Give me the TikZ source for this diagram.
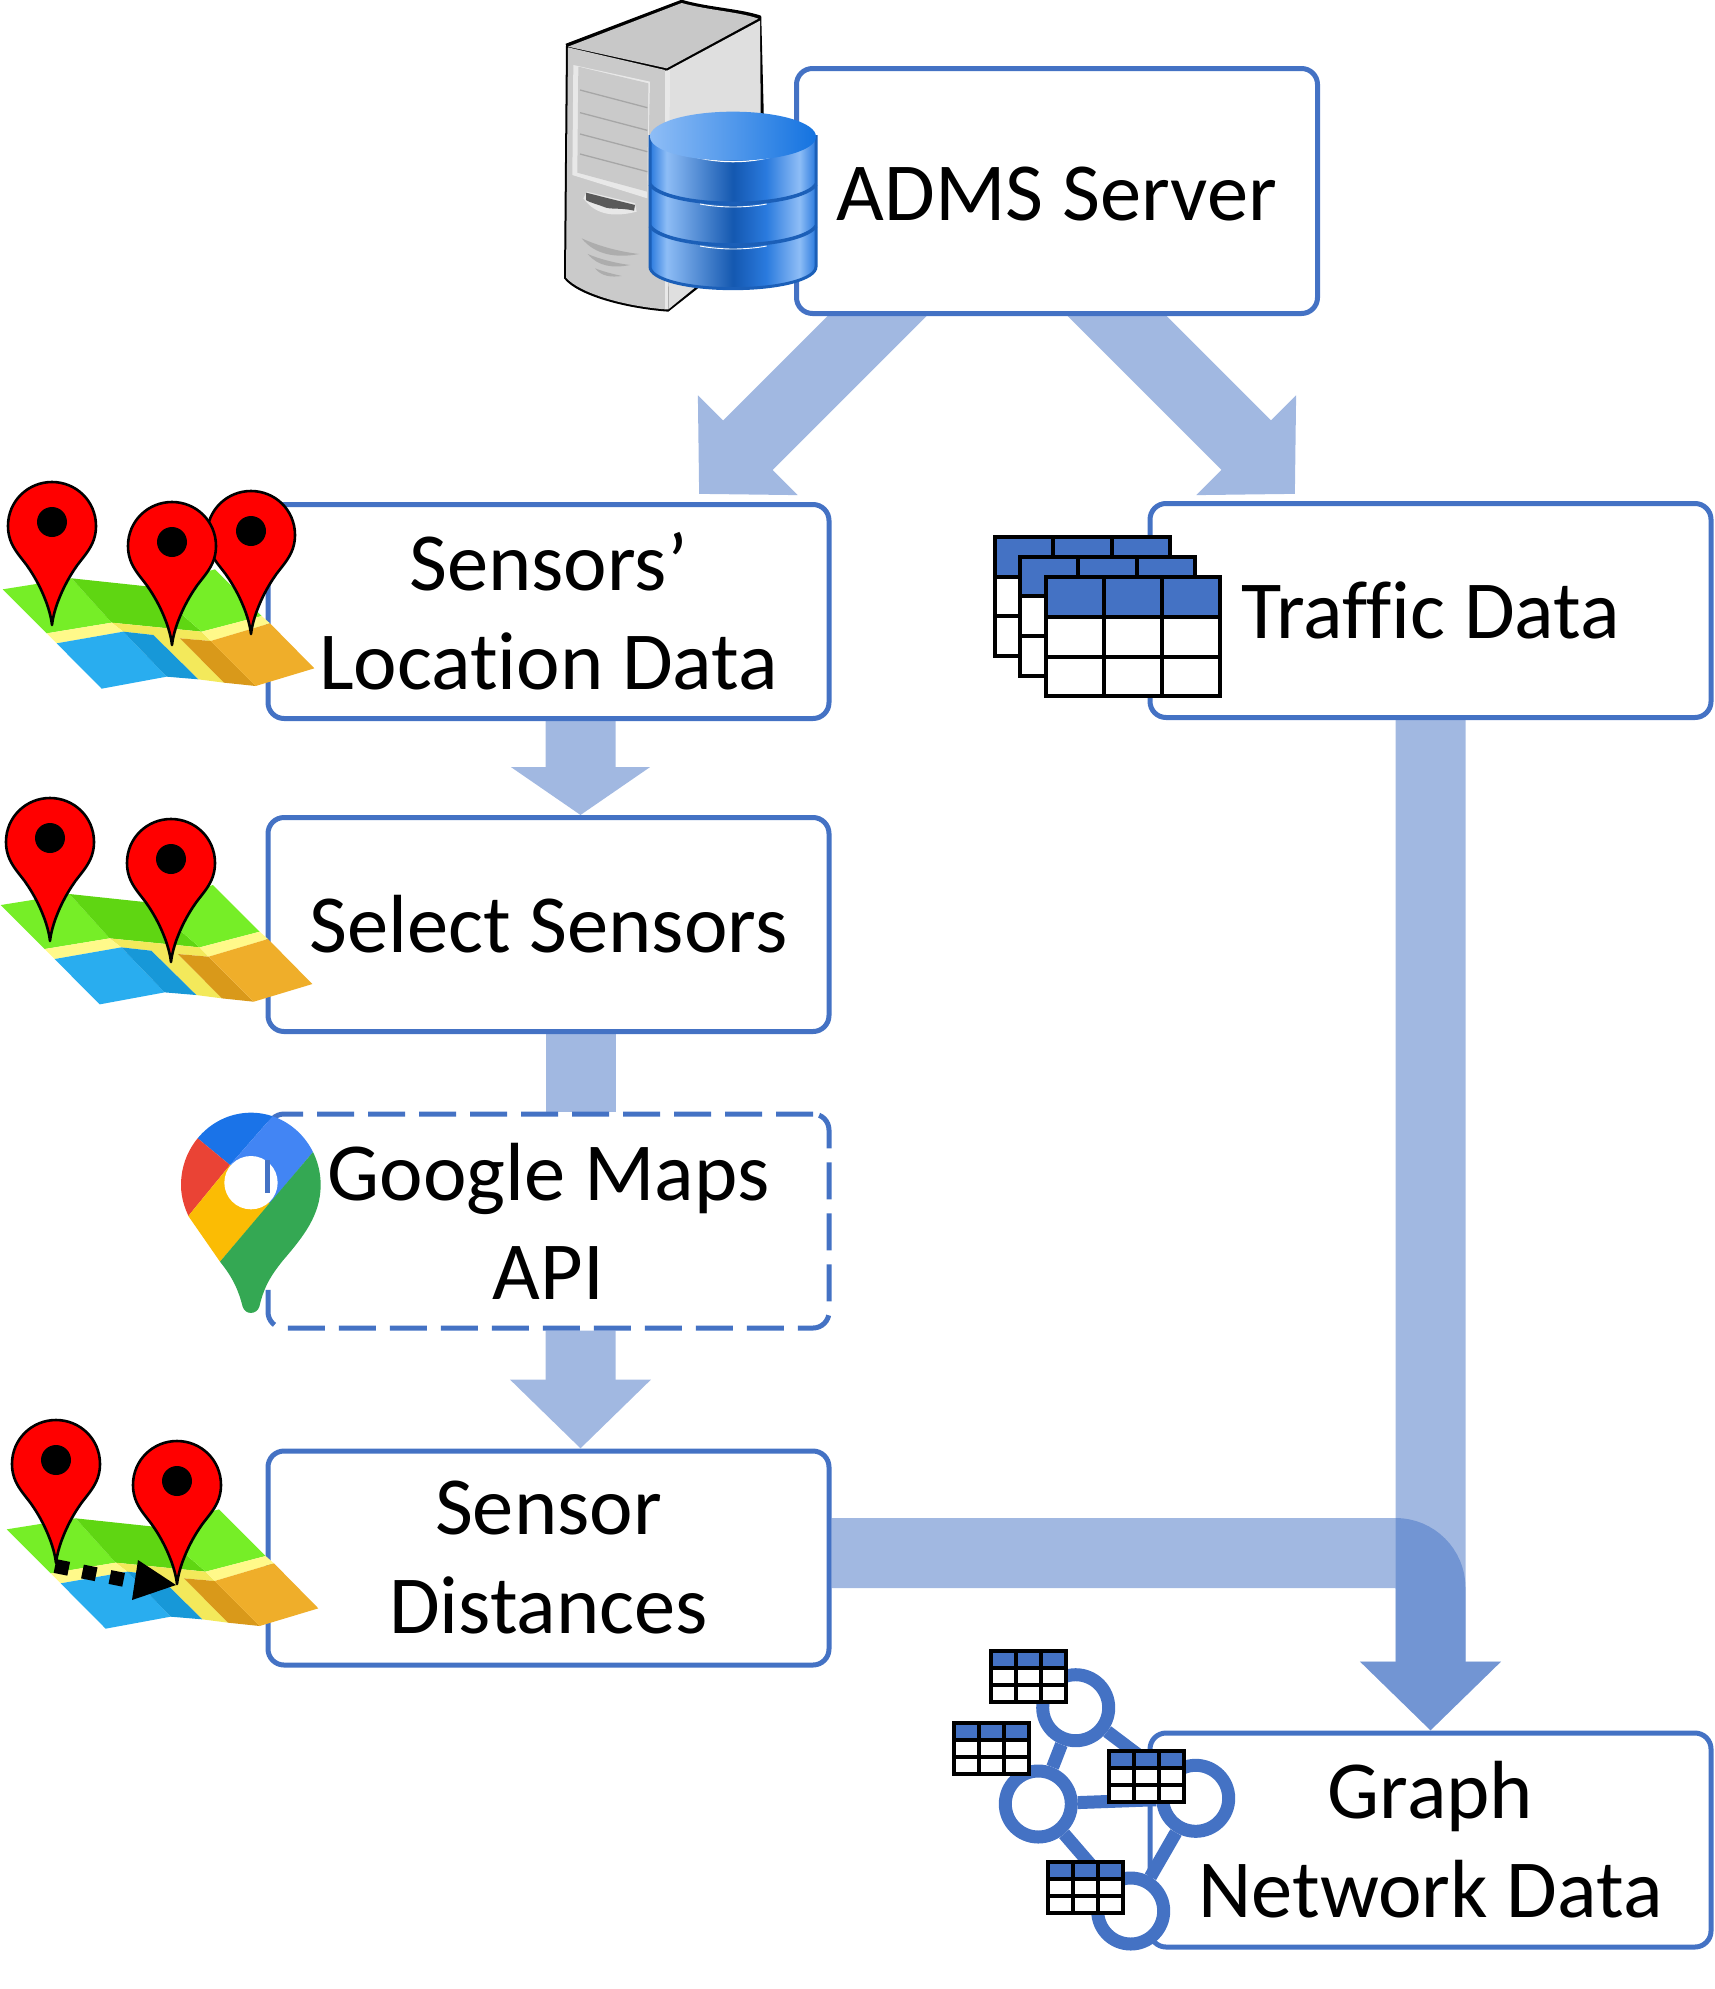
\documentclass[tikz,border=0pt]{standalone}
\usepackage{fontspec}
\setmainfont[Ligatures=NoCommon]{Carlito}
\usetikzlibrary{arrows.meta,backgrounds}
\definecolor{boxblue}{HTML}{4472C4}
\definecolor{dbmid}{HTML}{2A7ADE}
\definecolor{dblight}{HTML}{8EBDF6}
\definecolor{dbdark}{HTML}{1458B0}
\definecolor{dbrim}{HTML}{1B5FB8}
\definecolor{dbtop}{HTML}{1473E0}
\definecolor{servertop}{HTML}{C8C8C8}
\definecolor{serverside}{HTML}{DFDFDF}
\definecolor{serverfront}{HTML}{CACACA}
\definecolor{serverlight}{HTML}{E8E8E8}
\definecolor{mapgreen}{HTML}{76EE27}
\definecolor{mapgreendark}{HTML}{5FD612}
\definecolor{mapyellow}{HTML}{F3E95B}
\definecolor{mapyellowlight}{HTML}{FFF98A}
\definecolor{mapblue}{HTML}{29ADEF}
\definecolor{mapbluedark}{HTML}{1798D8}
\definecolor{maporange}{HTML}{EFAE2A}
\definecolor{maporangedark}{HTML}{D9991A}
\definecolor{gmapdarkblue}{HTML}{1A73E8}
\definecolor{gmapblue}{HTML}{4285F4}
\definecolor{gmapred}{HTML}{EA4335}
\definecolor{gmapyellow}{HTML}{FBBC04}
\definecolor{gmapgreen}{HTML}{34A853}
\pgfdeclarehorizontalshading{dbband}{100bp}{
  color(0bp)=(dbmid); color(25bp)=(dbmid); color(30bp)=(dblight); color(50bp)=(dbdark);
  color(60bp)=(dbmid); color(70bp)=(dblight); color(75bp)=(dbmid); color(100bp)=(dbmid)}
\tikzset{
  databox/.style={draw=boxblue,line width=5pt,rounded corners=16pt,fill=white,align=center,
    inner sep=0pt,minimum width=561pt,minimum height=214pt,font=\fontsize{82.5}{99}\selectfont},
  flowline/.style={line width=70pt,draw=boxblue},
  flow/.style={flowline,-{Triangle[length=69pt,width=137pt]}},
  flowshort/.style={flowline,-{Triangle[length=48pt,width=137pt]}},
  graphnode/.style={circle,draw=boxblue,line width=13pt,fill=white,minimum size=66pt,inner sep=0pt},
  graphedge/.style={draw=boxblue,line width=13pt},
  datatable/.pic={
    \fill[white] (0,0) rectangle (75,51);
    \fill[boxblue] (0,0) rectangle (75,17);
    \foreach \i in {0,25,50,75} \draw[line width=4pt,line cap=rect] (\i,0) -- (\i,51);
    \foreach \j in {0,17,34,51} \draw[line width=4pt,line cap=rect] (0,\j) -- (75,\j);
  },
  mappin/.pic={
    \draw[black,line width=2.6pt,line join=round,fill=red] (0,0) .. controls (-2,-18) and (-12,-40) .. (-22,-55)
      .. controls (-30,-68) and (-44,-78) .. (-44,-99) .. controls (-44,-124) and (-24,-143) .. (0,-143)
      .. controls (24,-143) and (44,-124) .. (44,-99) .. controls (44,-78) and (30,-68) .. (22,-55)
      .. controls (12,-40) and (2,-18) .. (0,0) -- cycle;
    \fill[black] (0,-103) circle[radius=15];
  },
  foldmap/.pic={
    \begin{scope}[scale=1/3]
      \fill[mapgreen] (8,358) -- (215,325) -- (335,458) -- (140,490) -- cycle;
      \fill[mapgreendark] (215,325) -- (450,350) -- (605,485) -- (335,458) -- cycle;
      \fill[mapgreen] (450,350) -- (645,298) -- (785,438) -- (605,485) -- cycle;
      \fill[mapyellow] (335,458) -- (605,485) -- (632,513) -- (540,505) -- (672,638) -- (595,628) -- (460,495) -- (370,485) -- cycle;
      \fill[mapyellowlight] (140,490) -- (335,458) -- (370,485) -- (170,520) -- cycle;
      \fill[mapyellowlight] (605,485) -- (785,438) -- (810,460) -- (632,513) -- cycle;
      \fill[mapblue] (170,520) -- (370,485) -- (500,620) -- (305,656) -- cycle;
      \fill[mapbluedark] (370,485) -- (460,495) -- (595,628) -- (500,620) -- cycle;
      \fill[maporangedark] (540,505) -- (632,513) -- (767,648) -- (672,638) -- cycle;
      \fill[maporange] (632,513) -- (810,460) -- (943,595) -- (767,648) -- cycle;
    \end{scope}
  },
}
\begin{document}
\begin{tikzpicture}[x=1pt,y=-1pt]
  \useasboundingbox (0,0) rectangle (1714,1989);
  \node[databox,minimum width=521pt,minimum height=245pt,text height=60pt] (adms) at (1057,191) {ADMS Server};
  \node[databox] (sensors) at (548.5,611.5) {Sensors’\\Location Data};
  \node[databox] (select) at (548.5,924.5) {Select Sensors};
  \node[databox,dash pattern=on 37pt off 14pt] (google) at (548.5,1221) {Google Maps\\API};
  \node[databox] (dist) at (548.5,1558) {Sensor\\Distances};
  \node[databox] (traffic) at (1430.5,610.5) {Traffic Data};
  \node[databox] (graph) at (1430.5,1840) {Graph\\Network Data};
  \coordinate (admsleft) at (948,245);
  \coordinate (admsright) at (1046,245);
  \coordinate (tipleft) at (699,494);
  \coordinate (tipright) at (1295,494);
  \begin{scope}[on background layer]
    \scoped[transparency group,opacity=.5] \draw[flow] (admsleft) -- (tipleft);
    \scoped[transparency group,opacity=.5] \draw[flow] (admsright) -- (tipright);
    \scoped[transparency group,opacity=.5] \draw[flowshort] ([xshift=32pt]sensors.south) -- ([xshift=32pt]select.north);
    \scoped[opacity=.5] \draw[flowline] ([xshift=32pt]select.south) -- ([xshift=32pt]google.north);
    \scoped[transparency group,opacity=.5] \draw[flow] ([xshift=32pt]google.south) -- ([xshift=32pt]dist.north);
    \scoped[transparency group,opacity=.5] \draw[flow] (traffic.south) -- (graph.north);
    \scoped[transparency group,opacity=.5] \draw[flow,rounded corners=35pt] ([yshift=5pt]dist.east) -| (graph.north);
  \end{scope}
  \begin{scope}[shift={(540,0)},scale=1/3]
    \fill[black] (78,135) -- (425,3) .. controls (500,25) and (600,30) .. (660,50) -- (668,360) -- (668,700) -- (470,868) -- (385,935)
      .. controls (250,925) and (110,885) .. (72,835) -- cycle;
    \draw[black,line width=2.5pt,line join=round] (78,135) -- (425,3) .. controls (500,25) and (600,30) .. (660,50) -- (668,360);
    \fill[servertop] (84,140) -- (425,9) .. controls (500,30) and (600,36) .. (655,56) -- (380,205) -- cycle;
    \fill[serverside] (385,210) -- (660,62) -- (665,700) -- (385,928) -- cycle;
    \fill[serverfront] (84,142) -- (375,210) -- (375,928) .. controls (250,918) and (120,880) .. (78,833) -- cycle;
    \fill[serverlight] (375,212) -- (390,210) -- (385,928) -- (375,928) -- cycle;
    \fill[serverlight] (100,195) -- (330,245) -- (322,595) -- (97,525) -- cycle;
    \fill[serverfront] (115,200) -- (325,250) -- (322,575) -- (112,518) -- cycle;
    \foreach \y in {270,338,402,462}
      \draw[black!35,line width=1.3pt] (120,\y) -- (322,\y+53);
    \fill[serverlight] (130,595) .. controls (170,650) and (230,650) .. (290,635) -- (285,610) -- (140,575) -- cycle;
    \fill[black!65] (138,578) -- (285,615) -- (282,632) .. controls (240,622) and (210,630) .. (190,620) .. controls (170,612) and (150,608) .. (138,600) -- cycle;
    \fill[black!32] (125,715) .. controls (180,740) and (240,755) .. (297,762) .. controls (230,775) and (165,765) .. cycle;
    \fill[black!32] (143,762) .. controls (180,778) and (230,790) .. (270,795) .. controls (220,805) and (175,800) .. cycle;
    \fill[black!32] (165,805) .. controls (190,815) and (220,822) .. (245,828) .. controls (215,832) and (185,830) .. cycle;
    \draw[shade,shading=dbband,draw=dbrim,line width=3pt] (330,410) -- (330,800) .. controls (330,838) and (441,866) .. (579,866)
      .. controls (717,866) and (828,838) .. (828,800) -- (828,410) -- cycle;
    \draw[dbrim,line width=3.5pt] (330,553) .. controls (350,585) and (450,610) .. (579,610) .. controls (708,610) and (808,585) .. (828,553);
    \draw[dbrim,line width=3.5pt] (330,678) .. controls (350,710) and (450,735) .. (579,735) .. controls (708,735) and (808,710) .. (828,678);
    \draw[white,line width=.9pt] (480,612) .. controls (510,618) and (550,621) .. (579,621) .. controls (610,621) and (650,618) .. (680,612);
    \draw[white,line width=.9pt] (480,738) .. controls (510,744) and (550,747) .. (579,747) .. controls (610,747) and (650,744) .. (680,738);
    \draw[white,line width=1.2pt] (470,472) .. controls (510,482) and (550,485) .. (579,485) .. controls (610,485) and (650,482) .. (690,472);
    \shade[left color=dblight,right color=dbtop] (330,410) .. controls (330,368) and (441,335) .. (579,335) .. controls (717,335) and (828,368) .. (828,410)
      .. controls (828,452) and (717,482) .. (579,482) .. controls (441,482) and (330,452) .. (330,410) -- cycle;
  \end{scope}
  \pic at (0,470) {foldmap};
  \pic at (251,634) {mappin};
  \pic at (172,645) {mappin};
  \pic at (52,625) {mappin};
  \pic at (-2,785.7) {foldmap};
  \pic at (171,962) {mappin};
  \pic at (50,941) {mappin};
  \pic at (4,1410) {foldmap};
  \pic at (177,1584) {mappin};
  \pic at (56,1563) {mappin};
  \draw[black,line width=14pt,dash pattern=on 14pt off 14pt] (55,1566) -- (125,1580);
  \fill[black] (138,1560) -- (176,1585) -- (132,1600) -- cycle;
  \begin{scope}[shift={(170,1100)},scale=1/3]
    \begin{scope}
      \clip (243,38) .. controls (128,38) and (33,135) .. (33,255) .. controls (33,340) and (90,410) .. (150,485)
        .. controls (190,535) and (205,570) .. (218,620) .. controls (225,645) and (260,645) .. (268,620)
        .. controls (280,570) and (295,535) .. (340,480) .. controls (400,410) and (452,345) .. (452,255)
        .. controls (452,135) and (358,38) .. (243,38) -- cycle;
      \fill[gmapdarkblue] (83,115) -- (180,195) -- (320,35) -- (320,0) -- (50,0) -- cycle;
      \fill[gmapblue] (180,195) -- (320,35) -- (470,130) -- (430,155) -- (300,310) -- cycle;
      \fill[gmapred] (83,115) -- (180,195) -- (55,348) -- (0,348) -- (0,115) -- cycle;
      \fill[gmapyellow] (180,195) -- (300,310) -- (150,485) -- (55,348) -- cycle;
      \fill[gmapgreen] (430,155) -- (470,130) -- (470,660) -- (100,660) -- (150,485) -- cycle;
    \end{scope}
    \fill[white] (243,248) circle[radius=80];
    \draw[boxblue,line width=5pt] (292,180) -- (292,280);
  \end{scope}
  \node[graphnode] (gone) at (1075.7,1707.7) {};
  \node[graphnode] (gtwo) at (1038.3,1804) {};
  \node[graphnode] (gthree) at (1195.7,1798.3) {};
  \node[graphnode] (gfour) at (1130.7,1911) {};
  \draw[graphedge] (gone) -- (gtwo);
  \draw[graphedge] (gone) -- (gthree);
  \draw[graphedge] (gtwo) -- (gthree);
  \draw[graphedge] (gtwo) -- (gfour);
  \draw[graphedge] (gthree) -- (gfour);
  \pic at (991.3,1651.3) {datatable};
  \pic at (954.3,1723) {datatable};
  \pic at (1109.3,1751.3) {datatable};
  \pic at (1048,1862) {datatable};
  \pic[scale=2.33] at (995,537) {datatable};
  \pic[scale=2.33] at (1020,556.7) {datatable};
  \pic[scale=2.33] at (1045.7,577.3) {datatable};
\end{tikzpicture}
\end{document}
